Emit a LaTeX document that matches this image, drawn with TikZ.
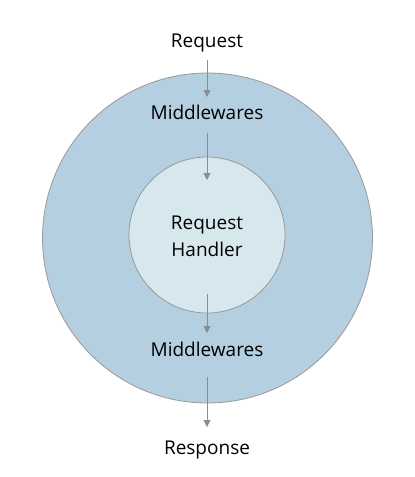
\documentclass[tikz,border=0pt]{standalone}
\usepackage{fontspec}
\setmainfont{Open Sans}
\usetikzlibrary{arrows.meta}
\definecolor{outerfill}{HTML}{B4CFDF}
\definecolor{innerfill}{HTML}{D6E8ED}
\definecolor{ringline}{HTML}{999999}
\definecolor{arrowgray}{HTML}{8C8C8C}
\begin{document}
\begin{tikzpicture}[x=1pt,y=-1pt,
  ring/.style={draw=ringline,line width=0.8pt},
  lbl/.style={font=\fontsize{19}{27}\selectfont,text=black,inner sep=0pt,align=center},
  flow/.style={draw=arrowgray,line width=1pt,-{Triangle[length=7pt,width=7pt]}}]
\useasboundingbox (0,0) rectangle (415,477);
\node[ring,circle,fill=outerfill,minimum size=330pt,inner sep=0pt] (outer) at (207.5,238) {};
\node[ring,circle,fill=innerfill,minimum size=156pt,inner sep=0pt] (inner) at (207,235) {};
\node[lbl] (req) at (207,43) {Request};
\node[lbl] (mw1) at (207,112) {Middlewares};
\node[lbl] (rh) at (207,236) {Request\\Handler};
\node[lbl] (mw2) at (207,349) {Middlewares};
\node[lbl] (resp) at (207,450) {Response};
\coordinate (a1s) at (207,60); \coordinate (a1e) at (207,97);
\coordinate (a2s) at (207,133); \coordinate (a2e) at (207,180);
\coordinate (a3s) at (207,294); \coordinate (a3e) at (207,333);
\coordinate (a4s) at (207,377); \coordinate (a4e) at (207,427);
\draw[flow] (a1s) -- (a1e);
\draw[flow] (a2s) -- (a2e);
\draw[flow] (a3s) -- (a3e);
\draw[flow] (a4s) -- (a4e);
\end{tikzpicture}
\end{document}
